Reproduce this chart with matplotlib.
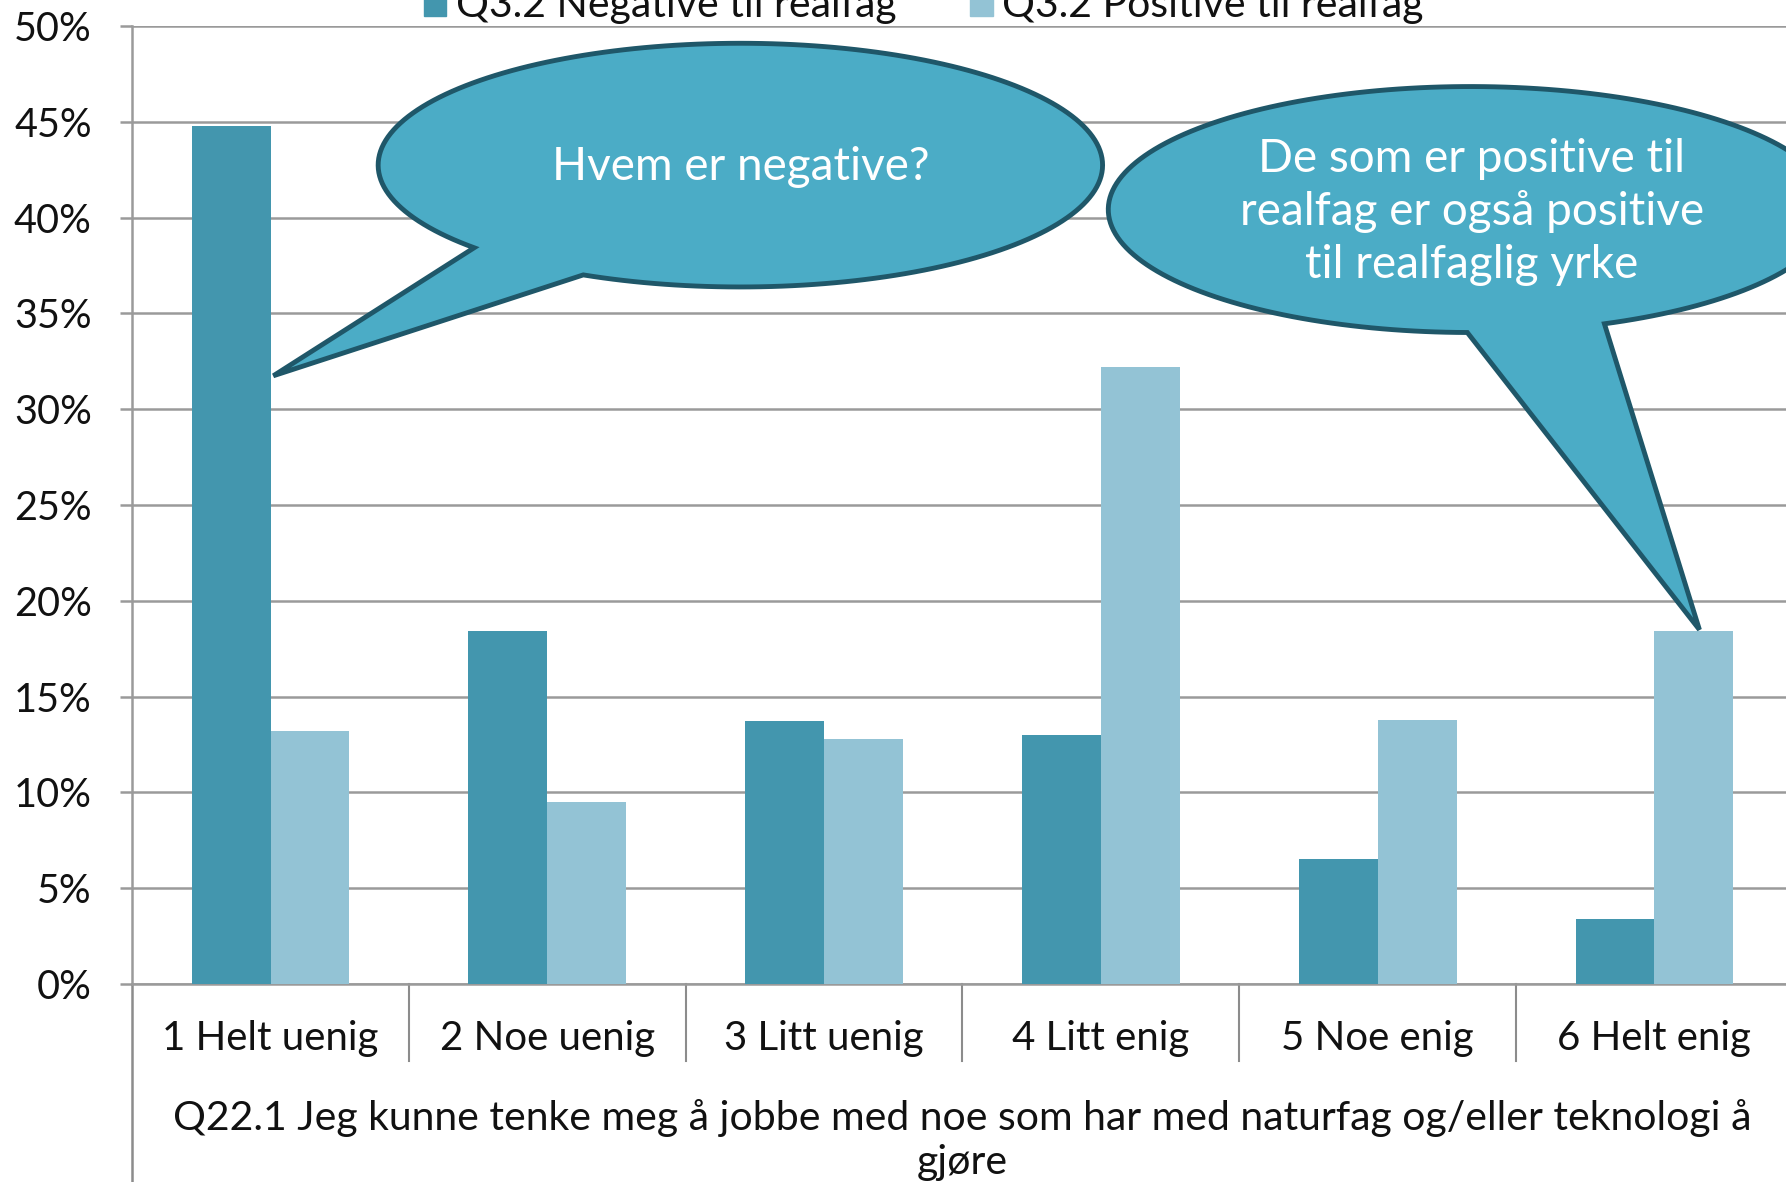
import numpy as np
import matplotlib
matplotlib.use("Agg")
import matplotlib.pyplot as plt
from matplotlib.patches import Polygon, Rectangle

plt.rcParams['font.family'] = ['Lato', 'DejaVu Sans']

categories = ["1 Helt uenig", "2 Noe uenig", "3 Litt uenig",
              "4 Litt enig", "5 Noe enig", "6 Helt enig"]
negative = [0.448, 0.184, 0.137, 0.130, 0.065, 0.034]
positive = [0.132, 0.095, 0.128, 0.322, 0.138, 0.184]
series_names = ["Q3.2 Negative til realfag", "Q3.2 Positive til realfag"]
yticks = [0, 0.05, 0.10, 0.15, 0.20, 0.25, 0.30, 0.35, 0.40, 0.45, 0.50]
xlabel = "Q22.1 Jeg kunne tenke meg å jobbe med noe som har med naturfag og/eller teknologi å\ngjøre"
bubble1 = "Hvem er negative?"
bubble2 = "De som er positive til\nrealfag er også positive\ntil realfaglig yrke"

DARK = "#4396ae"
LIGHT = "#93c3d5"
FILL = "#4bacc6"
EDGE = "#1f5769"
GRID = "#9a9a9a"
TXT = "#111111"

# reference measured on a 1568 x 1038 view
W, H = 1568, 1038

fig = plt.figure(figsize=(17.86, 11.82), dpi=100)
ax = fig.add_axes([116 / W, 1 - 864 / H, (1574 - 116) / W, (864 - 23) / H])

x = np.arange(len(categories))
bw = 0.285
ax.bar(x - bw / 2, negative, bw, color=DARK, zorder=3)
ax.bar(x + bw / 2, positive, bw, color=LIGHT, zorder=3)

ax.set_xlim(-0.5, len(categories) - 0.5)
ax.set_ylim(0, 0.5)
ax.set_yticks(yticks)
ax.set_yticklabels(["%d%%" % round(v * 100) for v in yticks], fontsize=28.5,
                   color=TXT)
ax.set_xticks([])
ax.yaxis.grid(True, color=GRID, lw=1.8, zorder=0)
ax.tick_params(axis='y', length=9, width=1.8, color=GRID, pad=20)
for s in ['top', 'right']:
    ax.spines[s].set_visible(False)
ax.spines['left'].set_color(GRID)
ax.spines['left'].set_linewidth(1.8)
ax.spines['bottom'].set_color(GRID)
ax.spines['bottom'].set_linewidth(1.8)

# multi-level category axis (Excel style)
trans = ax.get_xaxis_transform()
for k in range(1, len(categories)):
    ax.plot([k - 0.5, k - 0.5], [0, -68 / 841], color="#8c8c8c", lw=1.5,
            transform=trans, clip_on=False)
ax.plot([-0.5, -0.5], [0, -0.3], color="#8c8c8c", lw=1.8,
        transform=trans, clip_on=False)
for i, c in enumerate(categories):
    ax.text(i, -48 / 841, c, transform=trans, ha='center', va='center',
            fontsize=29, color=TXT)
ax.text(2.5, -137 / 841, xlabel, transform=trans, ha='center', va='center',
        fontsize=29.5, color=TXT, linespacing=1.25)

# overlay for legend and callouts
ov = fig.add_axes([0, 0, 1, 1], facecolor='none')
ov.set_xlim(0, W)
ov.set_ylim(H, 0)
ov.axis('off')

ov.add_patch(Rectangle((372, -10), 20, 24, color=DARK))
ov.text(400, 15, series_names[0], fontsize=29.5, va='baseline', color=TXT)
ov.add_patch(Rectangle((852, -10), 20, 24, color=LIGHT))
ov.text(880, 15, series_names[1], fontsize=29.5, va='baseline', color=TXT)


def callout(cx, cy, a, b, t1, t2, tip):
    th = np.radians(np.linspace(t1, t2 + 360, 200))
    pts = np.column_stack([cx + a * np.cos(th), cy + b * np.sin(th)])
    pts = np.vstack([pts, tip])
    ov.add_patch(Polygon(pts, closed=True, facecolor=FILL, edgecolor=EDGE,
                         lw=3.5, zorder=5))


callout(650, 145, 318, 107, 137.3, 115.7, (240, 330))
ov.text(650, 147, bubble1, ha='center', va='center', color='white',
        fontsize=33, zorder=6)
callout(1291, 184, 318, 108, 90.5, 68.3, (1492, 553))
ov.text(1292, 186, bubble2, ha='center', va='center', color='white',
        fontsize=33, zorder=6, linespacing=1.31)

fig.savefig("out.png", dpi=100)
